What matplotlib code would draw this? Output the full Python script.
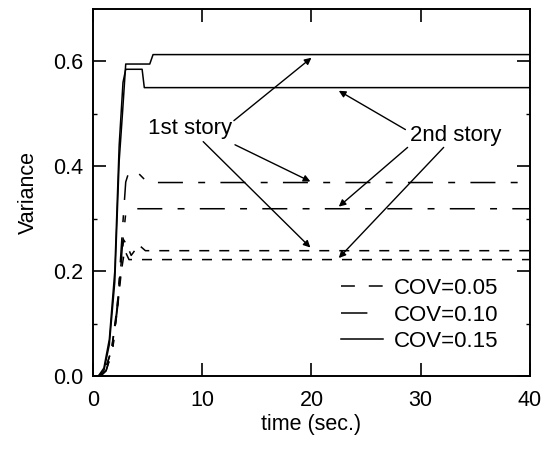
import matplotlib
matplotlib.use("Agg")
import matplotlib.pyplot as plt
from matplotlib.lines import Line2D

plt.rcParams["font.family"] = ["Liberation Sans", "DejaVu Sans"]
plt.rcParams["lines.scale_dashes"] = False

# Variance histories (time in seconds)
t_cov15_s1 = [0, 0.5, 1.0, 1.5, 2.0, 2.4, 2.7, 3.0, 4.5, 5.2, 5.5, 40]
v_cov15_s1 = [0, 0, 0.01, 0.06, 0.18, 0.41, 0.50, 0.595, 0.595, 0.595, 0.613, 0.613]
t_cov15_s2 = [0, 0.5, 1.0, 1.5, 2.0, 2.4, 2.75, 3.0, 4.5, 4.7, 40]
v_cov15_s2 = [0, 0, 0.015, 0.07, 0.20, 0.44, 0.56, 0.585, 0.585, 0.55, 0.55]

t_cov10_s1 = [0, 0.7, 1.2, 1.8, 2.3, 2.7, 3.0, 3.3, 4.0, 5.0, 40]
v_cov10_s1 = [0, 0, 0.01, 0.05, 0.15, 0.28, 0.37, 0.39, 0.39, 0.369, 0.369]
t_cov10_s2 = [0, 0.7, 1.2, 1.8, 2.3, 2.7, 3.0, 3.5, 40]
v_cov10_s2 = [0, 0, 0.01, 0.05, 0.14, 0.25, 0.31, 0.319, 0.319]

t_cov05_s1 = [0, 0.6, 1.1, 1.7, 2.2, 2.6, 2.8, 3.1, 3.5, 4.2, 4.8, 40]
v_cov05_s1 = [0, 0, 0.01, 0.05, 0.13, 0.22, 0.26, 0.25, 0.23, 0.25, 0.239, 0.239]
t_cov05_s2 = [0, 0.6, 1.1, 1.7, 2.2, 2.6, 2.9, 3.3, 40]
v_cov05_s2 = [0, 0, 0.01, 0.05, 0.12, 0.20, 0.24, 0.222, 0.222]

legend_labels = ["COV=0.05", "COV=0.10", "COV=0.15"]

dash05 = (0, (7.2, 7.2))
dash10 = (0, (18, 11, 5, 11))
lw = 1.1
fs = 15.5

fig = plt.figure(figsize=(5.5, 4.49), dpi=100)
ax = fig.add_axes([0.169, 0.1626, 0.7946, 0.8174])

ax.plot(t_cov15_s1, v_cov15_s1, color="black", lw=lw)
ax.plot(t_cov15_s2, v_cov15_s2, color="black", lw=lw)
ax.plot(t_cov10_s1, v_cov10_s1, color="black", lw=lw, linestyle=dash10)
ax.plot(t_cov10_s2, v_cov10_s2, color="black", lw=lw, linestyle=dash10)
ax.plot(t_cov05_s1, v_cov05_s1, color="black", lw=lw, linestyle=dash05)
ax.plot(t_cov05_s2, v_cov05_s2, color="black", lw=lw, linestyle=dash05)

ax.set_xlim(0, 40)
ax.set_ylim(0, 0.7)
ax.set_xticks([0, 10, 20, 30, 40])
ax.set_yticks([0.0, 0.2, 0.4, 0.6])
ax.set_yticks([0.1, 0.3, 0.5], minor=True)
ax.set_yticklabels(["0.0", "0.2", "0.4", "0.6"])
ax.tick_params(axis="both", which="major", direction="in", length=9.5, width=1.2,
               top=True, right=True, labelsize=fs)
ax.tick_params(axis="x", which="major", pad=10)
ax.tick_params(axis="y", which="major", pad=7)
ax.tick_params(axis="y", which="minor", direction="in", length=3, width=1.0,
               left=True, right=True)
for s in ax.spines.values():
    s.set_linewidth(1.4)

ax.set_xlabel("time (sec.)", fontsize=fs, labelpad=2)
ax.set_ylabel("Variance", fontsize=fs, labelpad=10)

arrow = dict(arrowstyle="-|>", color="black", lw=1.0, mutation_scale=10,
             shrinkA=0, shrinkB=0)

ax.text(8.9, 0.472, "1st story", fontsize=16, ha="center", va="center")
ax.annotate("", xy=(20.0, v_cov15_s1[-1] - 0.006), xytext=(12.9, 0.487), arrowprops=arrow)
ax.annotate("", xy=(19.9, v_cov10_s1[-1] + 0.002), xytext=(13.0, 0.441), arrowprops=arrow)
ax.annotate("", xy=(19.9, v_cov05_s1[-1] + 0.006), xytext=(10.09, 0.447), arrowprops=arrow)

ax.text(33.2, 0.458, "2nd story", fontsize=16, ha="center", va="center")
ax.annotate("", xy=(22.5, v_cov15_s2[-1] - 0.006), xytext=(28.6, 0.470), arrowprops=arrow)
ax.annotate("", xy=(22.5, v_cov10_s2[-1] + 0.004), xytext=(28.8, 0.436), arrowprops=arrow)
ax.annotate("", xy=(22.5, v_cov05_s2[-1] + 0.003), xytext=(32.1, 0.436), arrowprops=arrow)

handles = [
    Line2D([], [], color="black", lw=lw, linestyle=(0, (10, 10))),
    Line2D([], [], color="black", lw=lw, linestyle=(0, (19, 30))),
    Line2D([], [], color="black", lw=lw),
]
ax.legend(handles, legend_labels, loc="upper left", bbox_to_anchor=(22.66, 0.187),
          bbox_transform=ax.transData, frameon=False, fontsize=16,
          handlelength=1.9, handletextpad=0.5, labelspacing=0.25,
          borderpad=0, borderaxespad=0)

fig.savefig("out.png", dpi=100)
